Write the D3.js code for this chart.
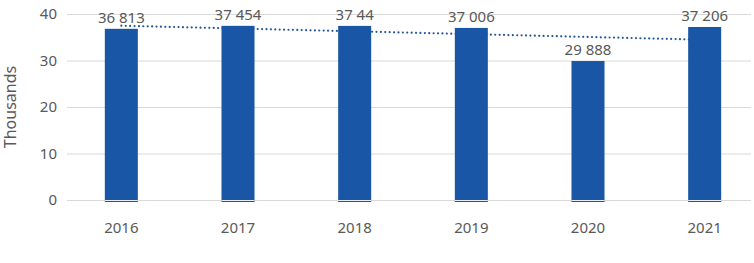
<!DOCTYPE html>
<html>
<head>
<meta charset="utf-8">
<script src="https://cdn.jsdelivr.net/npm/d3@7"></script>
<style>
  html, body { margin: 0; padding: 0; background: #fff; }
  svg { display: block; font-family: "Noto Sans", "Open Sans", sans-serif; }
</style>
</head>
<body>
<svg id="chart" width="754" height="263"></svg>
<script>
const categories = ["2016", "2017", "2018", "2019", "2020", "2021"];
const values = [36813, 37454, 37440, 37006, 29888, 37206];
const valueLabels = ["36 813", "37 454", "37 44", "37 006", "29 888", "37 206"];
const yTicks = [0, 10, 20, 30, 40];
const yTitle = "Thousands";

const svg = d3.select("#chart");
const gridLeft = 67, gridRight = 751;
const x = d3.scaleBand().domain(categories).range([63, 763]).paddingInner(0.717).paddingOuter(0.3585);
const y = d3.scaleLinear().domain([0, 40]).range([200, 14]);
const textColor = "#595959";

// gridlines
svg.append("g").selectAll("line").data(yTicks).join("line")
  .attr("x1", gridLeft).attr("x2", gridRight)
  .attr("y1", d => y(d) + 0.5).attr("y2", d => y(d) + 0.5)
  .attr("stroke", "#d9d9d9").attr("stroke-width", 1);

// y tick labels
svg.append("g").selectAll("text").data(yTicks).join("text")
  .attr("x", 57).attr("y", d => y(d)).attr("dy", "0.36em")
  .attr("text-anchor", "end").attr("font-size", 15).attr("fill", textColor)
  .text(d => d);

// y title
svg.append("text")
  .attr("transform", `translate(16,${(y(0) + y(40)) / 2}) rotate(-90)`)
  .attr("text-anchor", "middle").attr("font-size", 16).attr("fill", textColor)
  .text(yTitle);

// trendline (linear regression over data)
const n = values.length;
const xs = values.map((_, i) => i);
const mx = d3.mean(xs), my = d3.mean(values);
const slope = d3.sum(xs.map((xi, i) => (xi - mx) * (values[i] - my))) / d3.sum(xs.map(xi => (xi - mx) ** 2));
const intercept = my - slope * mx;
const trend = xs.map(i => intercept + slope * i);
const cx = c => x(c) + x.bandwidth() / 2;

svg.append("line")
  .attr("x1", cx(categories[0])).attr("y1", y(trend[0] / 1000))
  .attr("x2", cx(categories[n - 1])).attr("y2", y(trend[n - 1] / 1000))
  .attr("stroke", "#24569a").attr("stroke-width", 2.2)
  .attr("stroke-linecap", "round").attr("stroke-dasharray", "0 4.4");

// bars
const bars = svg.append("g");
bars.selectAll("rect").data(values).join("rect")
  .attr("x", (d, i) => x(categories[i]))
  .attr("width", x.bandwidth())
  .attr("y", d => y(d / 1000))
  .attr("height", d => y(0) - y(d / 1000) + 2)
  .attr("fill", "#1957a6");
bars.selectAll("line").data(values).join("line")
  .attr("x1", (d, i) => x(categories[i])).attr("x2", (d, i) => x(categories[i]) + x.bandwidth())
  .attr("y1", y(0) + 0.5).attr("y2", y(0) + 0.5)
  .attr("stroke", "#e8eef7").attr("stroke-width", 1);

// value labels
svg.append("g").selectAll("text").data(values).join("text")
  .attr("x", (d, i) => cx(categories[i]))
  .attr("y", d => y(d / 1000) - 6)
  .attr("text-anchor", "middle").attr("font-size", 15).attr("fill", textColor)
  .text((d, i) => valueLabels[i]);

// x labels
svg.append("g").selectAll("text").data(categories).join("text")
  .attr("x", d => cx(d)).attr("y", 233)
  .attr("text-anchor", "middle").attr("font-size", 15).attr("fill", textColor)
  .text(d => d);
</script>
</body>
</html>
